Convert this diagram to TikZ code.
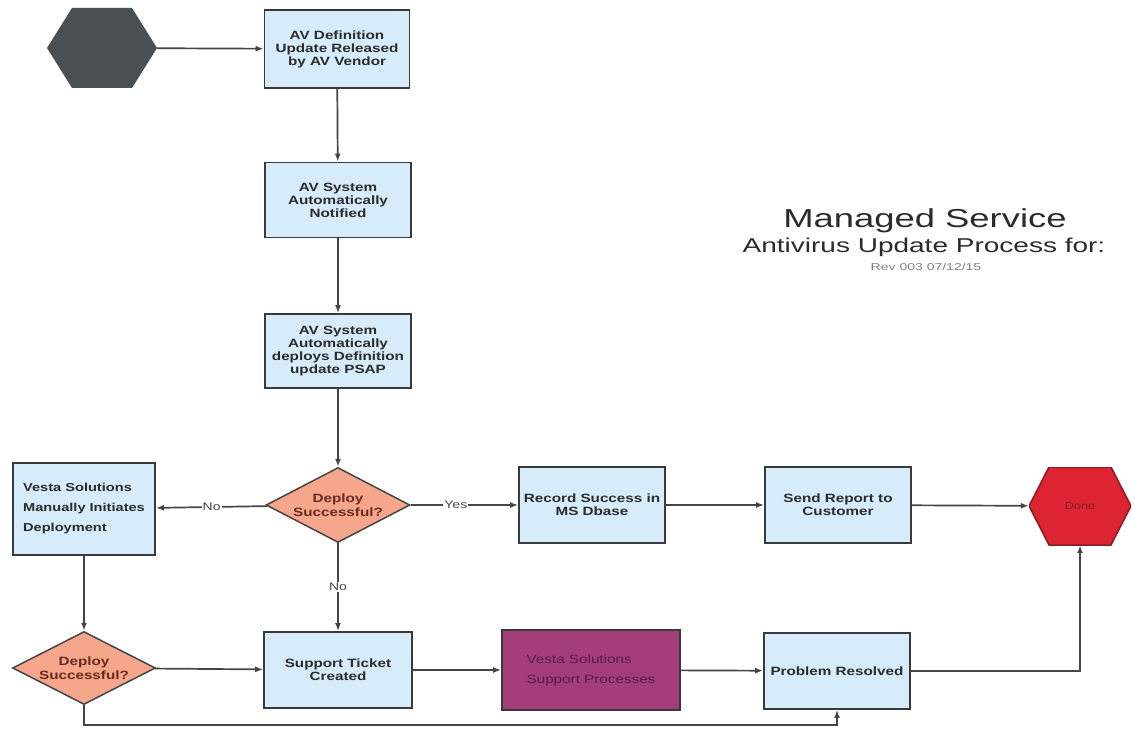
\documentclass[tikz,border=0pt]{standalone}
\usepackage{fontspec}
\setmainfont{Liberation Sans}[FakeStretch=1.27]
\newfontfamily\titlefont{Liberation Sans}[FakeStretch=1.4]
\usetikzlibrary{shapes.geometric,arrows.meta}
\definecolor{boxblue}{HTML}{D6ECFA}
\definecolor{edgegray}{HTML}{3A3A3A}
\definecolor{linegray}{HTML}{454545}
\definecolor{textdark}{HTML}{2B2B2B}
\definecolor{salmon}{HTML}{F5A68B}
\definecolor{salmontext}{HTML}{6A2A1C}
\definecolor{plum}{HTML}{A43E7A}
\definecolor{plumtext}{HTML}{5A1A48}
\definecolor{startgray}{HTML}{4A4F53}
\definecolor{donered}{HTML}{DC2432}
\definecolor{donetext}{HTML}{8A1C22}

\begin{document}
\begin{tikzpicture}[x=1pt,y=-1pt,>={Latex[length=8pt,width=6pt]},
proc/.style={draw=edgegray,line width=1.8pt,fill=boxblue,minimum width=146pt,minimum height=76pt,
  align=center,text=textdark,font=\bfseries\fontsize{12}{13}\selectfont,inner sep=2pt},
decide/.style={diamond,draw=linegray,line width=1.5pt,fill=salmon,minimum width=144pt,minimum height=75pt,
  aspect=1.92,inner sep=0pt,align=center,text=salmontext,font=\bfseries\fontsize{12}{14}\selectfont},
hexa/.style 2 args={inner sep=0pt,path picture={\filldraw[#1] (path picture bounding box.west)
  -- ([xshift=#2]path picture bounding box.north west) -- ([xshift=-#2]path picture bounding box.north east)
  -- (path picture bounding box.east) -- ([xshift=-#2]path picture bounding box.south east)
  -- ([xshift=#2]path picture bounding box.south west) -- cycle;}},
flow/.style={->,draw=linegray,line width=1.7pt},
answer/.style={fill=white,inner sep=1pt,text=linegray,font=\fontsize{11}{12}\selectfont}]
\useasboundingbox (0,0) rectangle (1135,730);

\node[hexa={fill=startgray,draw=none}{25pt},minimum width=110pt,minimum height=80pt] (start) at (102,48) {};
\node[proc,minimum width=145pt,minimum height=78pt] (released) at (337,49) {AV Definition\\Update Released\\by AV Vendor};
\node[proc,minimum height=75pt] (notified) at (338,200) {AV System\\Automatically\\Notified};
\node[proc,minimum height=74pt] (deploys) at (338,351) {AV System\\Automatically\\deploys Definition\\update PSAP};
\node[decide] (check) at (338,505) {Deploy\\Successful?};
\node[proc,minimum width=142pt,minimum height=92pt,align=left,font=\bfseries\fontsize{11.5}{20}\selectfont] (manual) at (84,509)
  {Vesta Solutions\\Manually Initiates\\Deployment};
\node[proc] (record) at (592,505) {Record Success in\\MS Dbase};
\node[proc] (report) at (838,505) {Send Report to\\Customer};
\node[hexa={fill=donered,draw=donetext,line width=1.5pt}{20pt},minimum width=102pt,minimum height=78pt,
  text=donetext,font=\fontsize{10}{12}\selectfont] (done) at (1080,506) {Done};
\node[decide,minimum width=143pt,minimum height=73pt] (recheck) at (84,668) {Deploy\\Successful?};
\node[proc,minimum width=148pt] (ticket) at (338,670) {Support Ticket\\Created};
\node[proc,draw=edgegray,fill=plum,minimum width=178pt,minimum height=80pt,align=left,text=plumtext,
  font=\fontsize{12}{20}\selectfont] (support) at (591,670) {Vesta Solutions\\Support Processes};
\node[proc] (resolved) at (837,671) {Problem Resolved};

\node[anchor=base,text=textdark,font=\titlefont\fontsize{26}{28}\selectfont] (title) at (925,228) {Managed Service};
\node[anchor=base,text=textdark,font=\titlefont\fontsize{20}{22}\selectfont] (subtitle) at (924,252) {Antivirus Update Process for:};
\node[anchor=base,text=gray,font=\titlefont\fontsize{10}{12}\selectfont] (rev) at (926,270) {Rev 003 07/12/15};

\draw[flow] (start) -- (released);
\draw[flow] (released) -- (notified);
\draw[flow] (notified) -- (deploys);
\draw[flow] (deploys) -- (check);
\draw[flow] (check) -- node[answer]{No} (manual);
\draw[flow] (check) -- node[answer,pos=0.42]{Yes} (record);
\draw[flow] (check) -- node[answer]{No} (ticket);
\draw[flow] (record) -- (report);
\draw[flow] (report) -- (done);
\draw[flow] (manual) -- (recheck);
\draw[flow] (recheck) -- (ticket);
\draw[flow] (ticket) -- (support);
\draw[flow] (support) -- (resolved);
\draw[flow] (resolved) -| (done);
\draw[flow] (recheck.south) -- ++(0,20) -| (resolved.south);
\end{tikzpicture}
\end{document}
